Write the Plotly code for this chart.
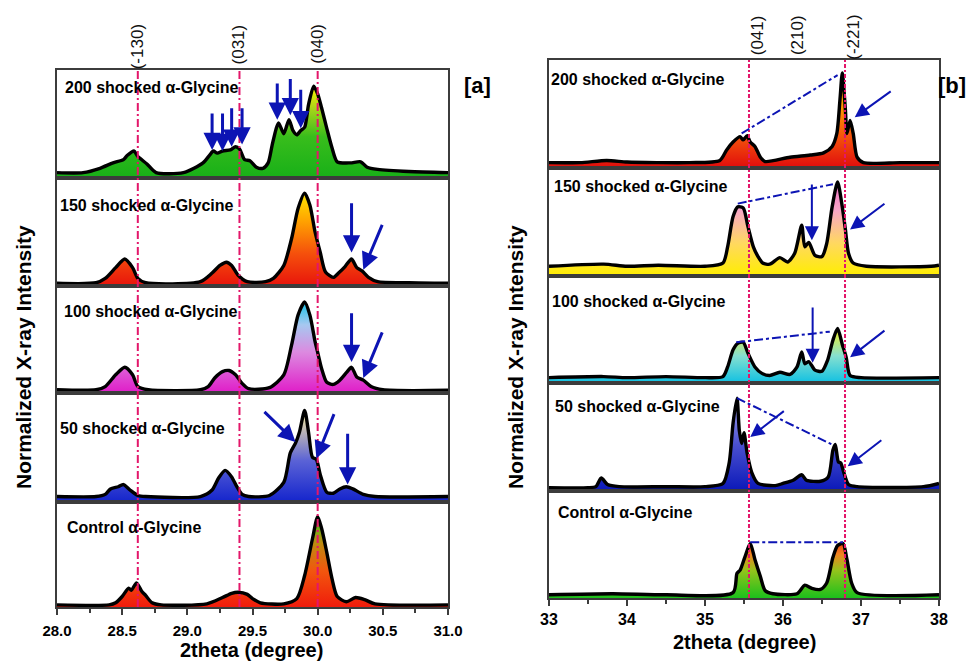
import plotly.graph_objects as go

# ---------------- data : panel [a] (2theta 28-31) ----------------
a_names = ["200 shocked α-Glycine", "150 shocked α-Glycine", "100 shocked α-Glycine",
           "50 shocked α-Glycine", "Control α-Glycine"]

a200_x = [28.00, 28.20, 28.33, 28.43, 28.51, 28.54, 28.59, 28.62, 28.69, 28.76, 28.97, 29.12, 29.17, 29.20,
          29.23, 29.27, 29.33, 29.37, 29.40, 29.44, 29.48, 29.53, 29.58, 29.62, 29.65, 29.68, 29.70, 29.74,
          29.78, 29.81, 29.84, 29.87, 29.90, 29.93, 29.97, 30.00, 30.03, 30.07, 30.11, 30.15, 30.25, 30.33,
          30.38, 30.46, 30.70, 31.00]
a200_y = [0.05, 0.05, 0.09, 0.14, 0.17, 0.21, 0.25, 0.20, 0.13, 0.05, 0.05, 0.14, 0.21, 0.25, 0.23, 0.25,
          0.26, 0.29, 0.27, 0.17, 0.16, 0.10, 0.09, 0.14, 0.30, 0.45, 0.51, 0.41, 0.54, 0.44, 0.40, 0.44,
          0.47, 0.68, 0.85, 0.78, 0.65, 0.46, 0.28, 0.15, 0.14, 0.15, 0.10, 0.08, 0.06, 0.05]

a150_x = [28.00, 28.30, 28.37, 28.45, 28.52, 28.58, 28.62, 28.68, 29.10, 29.19, 29.25, 29.30, 29.34, 29.39,
          29.46, 29.60, 29.66, 29.74, 29.80, 29.85, 29.90, 29.94, 29.98, 30.02, 30.06, 30.12, 30.16, 30.21,
          30.26, 30.30, 30.34, 30.39, 30.46, 30.70, 31.00]
a150_y = [0.025, 0.03, 0.07, 0.17, 0.25, 0.17, 0.07, 0.03, 0.04, 0.12, 0.19, 0.22, 0.19, 0.10, 0.04, 0.04,
          0.07, 0.19, 0.44, 0.72, 0.86, 0.75, 0.50, 0.31, 0.13, 0.08, 0.12, 0.18, 0.25, 0.17, 0.14, 0.08,
          0.04, 0.03, 0.025]

a100_x = [28.00, 28.30, 28.37, 28.45, 28.52, 28.58, 28.62, 28.70, 29.10, 29.16, 29.21, 29.27, 29.32, 29.37,
          29.42, 29.47, 29.63, 29.74, 29.80, 29.85, 29.90, 29.94, 29.98, 30.00, 30.03, 30.07, 30.12, 30.17,
          30.22, 30.26, 30.30, 30.35, 30.41, 30.50, 31.00]
a100_y = [0.03, 0.03, 0.06, 0.17, 0.24, 0.17, 0.06, 0.03, 0.03, 0.06, 0.14, 0.20, 0.21, 0.17, 0.09, 0.04,
          0.05, 0.17, 0.45, 0.73, 0.85, 0.73, 0.48, 0.38, 0.23, 0.10, 0.08, 0.12, 0.19, 0.24, 0.15, 0.12,
          0.06, 0.03, 0.025]

a50_x = [28.00, 28.30, 28.37, 28.41, 28.47, 28.51, 28.56, 28.62, 28.68, 29.10, 29.19, 29.24, 29.29, 29.34,
         29.38, 29.42, 29.47, 29.63, 29.74, 29.79, 29.83, 29.86, 29.90, 29.93, 29.96, 29.99, 30.02, 30.07,
         30.12, 30.17, 30.22, 30.27, 30.35, 30.44, 31.00]
a50_y = [0.05, 0.05, 0.07, 0.12, 0.14, 0.16, 0.11, 0.06, 0.05, 0.05, 0.11, 0.22, 0.29, 0.23, 0.14, 0.07,
         0.05, 0.06, 0.18, 0.45, 0.54, 0.64, 0.84, 0.64, 0.41, 0.39, 0.25, 0.09, 0.08, 0.12, 0.14, 0.12,
         0.07, 0.05, 0.05]

actl_x = [28.00, 28.40, 28.45, 28.50, 28.55, 28.57, 28.61, 28.65, 28.68, 28.73, 28.80, 29.15, 29.27, 29.34,
          29.39, 29.46, 29.50, 29.56, 29.74, 29.84, 29.90, 29.96, 30.00, 30.03, 30.07, 30.11, 30.15, 30.22,
          30.29, 30.36, 30.44, 31.00]
actl_y = [0.02, 0.02, 0.04, 0.10, 0.18, 0.16, 0.23, 0.15, 0.11, 0.04, 0.02, 0.03, 0.09, 0.13, 0.14, 0.12,
          0.08, 0.04, 0.03, 0.08, 0.30, 0.65, 0.86, 0.75, 0.52, 0.27, 0.10, 0.05, 0.09, 0.07, 0.03, 0.02]

# ---------------- data : panel [b] (2theta 33-38) ----------------
b200_x = [33.00, 33.40, 33.74, 34.00, 34.38, 34.80, 35.19, 35.28, 35.36, 35.45, 35.49, 35.54, 35.58, 35.64,
          35.71, 35.77, 36.09, 36.35, 36.52, 36.63, 36.69, 36.73, 36.76, 36.80, 36.82, 36.86, 36.90, 36.95,
          37.03, 37.50, 38.00]
b200_y = [0.05, 0.05, 0.07, 0.055, 0.05, 0.05, 0.07, 0.17, 0.24, 0.29, 0.26, 0.30, 0.24, 0.20, 0.10, 0.06,
          0.10, 0.12, 0.14, 0.20, 0.32, 0.63, 0.88, 0.54, 0.32, 0.44, 0.32, 0.10, 0.05, 0.05, 0.05]

b150_x = [33.00, 33.70, 34.00, 34.40, 35.00, 35.23, 35.29, 35.36, 35.42, 35.49, 35.55, 35.62, 35.68, 35.74,
          35.83, 35.96, 36.06, 36.15, 36.24, 36.28, 36.33, 36.41, 36.50, 36.56, 36.63, 36.70, 36.76, 36.80,
          36.84, 36.90, 37.07, 37.90, 38.00]
b150_y = [0.09, 0.11, 0.09, 0.10, 0.09, 0.12, 0.27, 0.55, 0.64, 0.63, 0.46, 0.27, 0.18, 0.12, 0.11, 0.17,
          0.13, 0.21, 0.47, 0.27, 0.31, 0.19, 0.18, 0.30, 0.64, 0.87, 0.64, 0.43, 0.21, 0.12, 0.09, 0.09, 0.10]

b100_x = [33.00, 33.70, 34.00, 34.50, 35.00, 35.23, 35.29, 35.36, 35.42, 35.49, 35.55, 35.64, 35.73, 35.83,
          35.96, 36.09, 36.18, 36.24, 36.28, 36.33, 36.41, 36.50, 36.57, 36.64, 36.70, 36.76, 36.81, 36.86,
          37.00, 38.00]
b100_y = [0.05, 0.06, 0.05, 0.06, 0.05, 0.06, 0.15, 0.31, 0.37, 0.38, 0.28, 0.15, 0.09, 0.07, 0.10, 0.08,
          0.15, 0.29, 0.18, 0.20, 0.12, 0.11, 0.21, 0.40, 0.51, 0.36, 0.24, 0.07, 0.05, 0.05]

b50_x = [33.00, 33.50, 33.60, 33.67, 33.75, 33.90, 34.50, 35.00, 35.23, 35.31, 35.36, 35.41, 35.44, 35.47,
         35.50, 35.54, 35.60, 35.68, 35.90, 36.00, 36.13, 36.24, 36.30, 36.48, 36.58, 36.64, 36.67, 36.71,
         36.74, 36.78, 36.84, 36.95, 37.80, 38.00]
b50_y = [0.03, 0.03, 0.04, 0.12, 0.06, 0.04, 0.04, 0.04, 0.07, 0.26, 0.63, 0.86, 0.56, 0.44, 0.54, 0.35,
         0.17, 0.07, 0.05, 0.07, 0.10, 0.15, 0.10, 0.09, 0.13, 0.38, 0.43, 0.27, 0.26, 0.17, 0.06, 0.04,
         0.04, 0.07]

bctl_x = [33.00, 33.82, 34.50, 35.36, 35.41, 35.45, 35.51, 35.58, 35.64, 35.71, 35.77, 35.87, 36.18, 36.28,
          36.37, 36.48, 36.56, 36.64, 36.70, 36.77, 36.82, 36.88, 36.95, 38.00]
bctl_y = [0.03, 0.04, 0.03, 0.05, 0.23, 0.26, 0.38, 0.51, 0.36, 0.20, 0.07, 0.04, 0.04, 0.12, 0.09, 0.08,
          0.14, 0.38, 0.49, 0.51, 0.36, 0.14, 0.05, 0.03]

# reflection positions and labels
a_ref_pos = [28.62, 29.40, 30.00]
a_ref_lbl = ["(-130)", "(031)", "(040)"]
b_ref_pos = [35.564, 36.795]
b_lbl_pos = [35.67, 36.18, 36.90]
b_lbl = ["(041)", "(210)", "(-221)"]

a_ticks = [28.0, 28.5, 29.0, 29.5, 30.0, 30.5, 31.0]
b_ticks = [33, 34, 35, 36, 37, 38]

# ---------------- figure ----------------
# the page body has an 8px margin; the figure is sized to fit inside the window and
# everything is laid out in window pixels minus that offset
OFF = 8
W, H = 977 - 2 * OFF, 663 - OFF
def fx(px): return (px - OFF) / W
def fy(py): return 1 - (py - OFF) / H

LEFT = (57, 448)
RIGHT = (549, 939)
left_rows = [70, 178, 286, 393, 502, 607]
right_rows = [60, 168, 276, 383, 491, 598]

a_cs = [
    [[0, '#18b018'], [0.45, '#38bd1c'], [0.75, '#a6d41a'], [1, '#fff200']],
    [[0, '#e8140c'], [0.35, '#f5500c'], [0.7, '#ffa200'], [1, '#ffe600']],
    [[0, '#e01cc8'], [0.45, '#dc8ae0'], [0.75, '#a6c8f0'], [1, '#18c4ea']],
    [[0, '#1424cc'], [0.45, '#5a62d6'], [0.8, '#c4bcb4'], [1, '#fff6a0']],
    [[0, '#f01c0c'], [0.4, '#f2560e'], [0.7, '#c08a10'], [1, '#3cc41c']],
]
b_cs = [
    [[0, '#e00c0c'], [0.3, '#f24c0c'], [0.6, '#ff9000'], [1, '#ffd000']],
    [[0, '#ffee00'], [0.35, '#ffd860'], [0.7, '#f8a6c6'], [1, '#f070c4']],
    [[0, '#10c0e2'], [0.5, '#86e0d0'], [1, '#f2f020']],
    [[0, '#0a18b8'], [0.5, '#4a50d0'], [1, '#a8a8ee']],
    [[0, '#1cc01c'], [0.5, '#92c41c'], [0.8, '#f08420'], [1, '#f04410']],
]

a_data = [(a200_x, a200_y), (a150_x, a150_y), (a100_x, a100_y), (a50_x, a50_y), (actl_x, actl_y)]
b_data = [(b200_x, b200_y), (b150_x, b150_y), (b100_x, b100_y), (b50_x, b50_y), (bctl_x, bctl_y)]

fig = go.Figure()
FRAME = '#3c3c3c'
BOLD = dict(family='Arial', color='black', weight='bold')

for side in range(2):
    data = a_data if side == 0 else b_data
    cs_list = a_cs if side == 0 else b_cs
    rows = left_rows if side == 0 else right_rows
    xl = LEFT if side == 0 else RIGHT
    for i in range(5):
        k = side * 5 + i + 1
        xs, ys = data[i]
        fig.add_trace(go.Scatter(
            x=xs, y=ys, xaxis=f'x{k}', yaxis=f'y{k}', mode='lines',
            line=dict(color='black', width=3.4, shape='spline', smoothing=0.7),
            fill='tozeroy',
            fillgradient=dict(type='vertical', colorscale=cs_list[i], start=0, stop=max(ys)),
            showlegend=False, hoverinfo='skip'))
        bottom = (i == 4)
        xa = dict(domain=[fx(xl[0]), fx(xl[1])], anchor=f'y{k}',
                  range=[28, 31] if side == 0 else [33, 38],
                  showline=True, mirror=True, linecolor=FRAME, linewidth=1.5,
                  showgrid=False, zeroline=False, showticklabels=bottom,
                  ticks='outside' if bottom else '', ticklen=6, tickwidth=1.5, tickcolor=FRAME,
                  tickfont=dict(size=15, **BOLD), automargin=False)
        if bottom:
            if side == 0:
                xa.update(tickmode='array', tickvals=a_ticks, ticktext=[f'{t:.1f}' for t in a_ticks],
                          ticklabelstandoff=3,
                          minor=dict(ticks='outside', ticklen=4, tickwidth=1.5, tickcolor=FRAME,
                                     tickmode='linear', tick0=28, dtick=0.25))
            else:
                xa.update(tickmode='array', tickvals=b_ticks, ticktext=[str(t) for t in b_ticks],
                          tickfont=dict(size=16, **BOLD),
                          minor=dict(ticks='outside', ticklen=4, tickwidth=1.5, tickcolor=FRAME,
                                     tickmode='linear', tick0=33, dtick=0.5))
        ya = dict(domain=[fy(rows[i + 1]), fy(rows[i])], anchor=f'x{k}', range=[0, 1],
                  showline=True, mirror=True, linecolor=FRAME, linewidth=1.5,
                  showgrid=False, zeroline=False, showticklabels=False, ticks='', automargin=False)
        fig.layout[f'xaxis{k}' if k > 1 else 'xaxis'] = xa
        fig.layout[f'yaxis{k}' if k > 1 else 'yaxis'] = ya

shapes = []
ann = []
REF = '#e3176a'
for xv in a_ref_pos:
    shapes.append(dict(type='line', xref='x', yref='paper', x0=xv, x1=xv,
                       y0=fy(left_rows[-1]), y1=fy(left_rows[0]),
                       line=dict(color=REF, width=2, dash='8px,3px,2px,3px')))
for xv in b_ref_pos:
    shapes.append(dict(type='line', xref='x6', yref='paper', x0=xv, x1=xv,
                       y0=fy(right_rows[-1]), y1=fy(right_rows[0]),
                       line=dict(color=REF, width=2, dash='4px,2px,2px,2px')))
for xv, t in zip(a_ref_pos, a_ref_lbl):
    ann.append(dict(x=xv, xref='x', y=fy(22), yref='paper', text=t, textangle=-90, showarrow=False,
                    xanchor='center', yanchor='top', font=dict(size=17, family='Arial', color='#111')))
for xv, t in zip(b_lbl_pos, b_lbl):
    ann.append(dict(x=xv, xref='x6', y=fy(13), yref='paper', text=t, textangle=-90, showarrow=False,
                    xanchor='center', yanchor='top', font=dict(size=17, family='Arial', color='#111')))

# sample labels
a_lbl_px = [(63, 88), (58, 205), (62, 312), (58, 428), (65, 527)]
b_lbl_px = [(549, 80), (552, 187), (550, 301), (553, 406), (556, 513)]
for names, pos in ((a_names, a_lbl_px), (a_names, b_lbl_px)):
    for t, (px, py) in zip(names, pos):
        ann.append(dict(x=fx(px), y=fy(py), xref='paper', yref='paper', text=t, showarrow=False,
                        xanchor='left', yanchor='middle', font=dict(size=16, **BOLD)))

# blue arrows (tip x,y ; tail ax,ay) per subplot
BLUE = '#0c14b4'
def arrow(k, x, y, ax, ay, w=3, size=1.15):
    ann.append(dict(xref=f'x{k}', yref=f'y{k}', axref=f'x{k}', ayref=f'y{k}', x=x, y=y, ax=ax, ay=ay,
                    text='', showarrow=True, arrowhead=2, arrowsize=size, arrowwidth=w, arrowcolor=BLUE))

arrow(1, 29.19, 0.26, 29.19, 0.61)
arrow(1, 29.27, 0.25, 29.27, 0.61)
arrow(1, 29.34, 0.29, 29.34, 0.66)
arrow(1, 29.42, 0.31, 29.42, 0.66)
arrow(1, 29.69, 0.54, 29.69, 0.89)
arrow(1, 29.79, 0.58, 29.79, 0.93)
arrow(1, 29.87, 0.46, 29.87, 0.83)
arrow(2, 30.26, 0.31, 30.26, 0.78)
arrow(2, 30.35, 0.15, 30.50, 0.58)
arrow(3, 30.26, 0.29, 30.26, 0.76)
arrow(3, 30.35, 0.14, 30.50, 0.58)
arrow(4, 29.83, 0.55, 29.58, 0.84)
arrow(4, 29.99, 0.40, 30.13, 0.82)
arrow(4, 30.23, 0.16, 30.23, 0.64)

arrow(6, 36.92, 0.47, 37.40, 0.72, w=2, size=1.4)
arrow(7, 36.37, 0.33, 36.37, 0.86, w=2, size=1.4)
arrow(7, 36.86, 0.43, 37.32, 0.68, w=2, size=1.4)
arrow(8, 36.38, 0.19, 36.38, 0.72, w=2, size=1.4)
arrow(8, 36.86, 0.24, 37.32, 0.50, w=2, size=1.4)
arrow(9, 35.58, 0.50, 36.03, 0.75, w=2, size=1.4)
arrow(9, 36.83, 0.23, 37.28, 0.48, w=2, size=1.4)

def dline(k, x0, y0, x1, y1):
    shapes.append(dict(type='line', xref=f'x{k}', yref=f'y{k}', x0=x0, y0=y0, x1=x1, y1=y1,
                       line=dict(color=BLUE, width=2, dash='dashdot')))
dline(6, 35.47, 0.32, 36.70, 0.86)
dline(7, 35.42, 0.67, 36.64, 0.85)
dline(8, 35.40, 0.38, 36.60, 0.48)
dline(9, 35.41, 0.86, 36.63, 0.43)
dline(10, 35.58, 0.52, 36.77, 0.52)

# panel tags and axis titles
ann.append(dict(x=fx(462), y=fy(85), xref='paper', yref='paper', text='[a]', showarrow=False,
                xanchor='left', yanchor='middle', font=dict(size=22, **BOLD)))
ann.append(dict(x=fx(968), y=fy(85), xref='paper', yref='paper', text='[b]', showarrow=False,
                xanchor='right', yanchor='middle', font=dict(size=22, **BOLD)))
for px in (23, 515):
    ann.append(dict(x=fx(px), y=fy(357), xref='paper', yref='paper', text='Normalized X-ray Intensity',
                    textangle=-90, showarrow=False, xanchor='center', yanchor='middle',
                    font=dict(size=21, **BOLD)))
ann.append(dict(x=fx(252), y=fy(650), xref='paper', yref='paper', text='2theta (degree)', showarrow=False,
                xanchor='center', yanchor='middle', font=dict(size=20, **BOLD)))
ann.append(dict(x=fx(744), y=fy(642), xref='paper', yref='paper', text='2theta (degree)', showarrow=False,
                xanchor='center', yanchor='middle', font=dict(size=20, **BOLD)))

fig.update_layout(width=W, height=H, margin=dict(l=0, r=0, t=0, b=0, autoexpand=False),
                  paper_bgcolor='white', plot_bgcolor='white',
                  shapes=shapes, annotations=ann, showlegend=False)
fig.write_html("out.html")
